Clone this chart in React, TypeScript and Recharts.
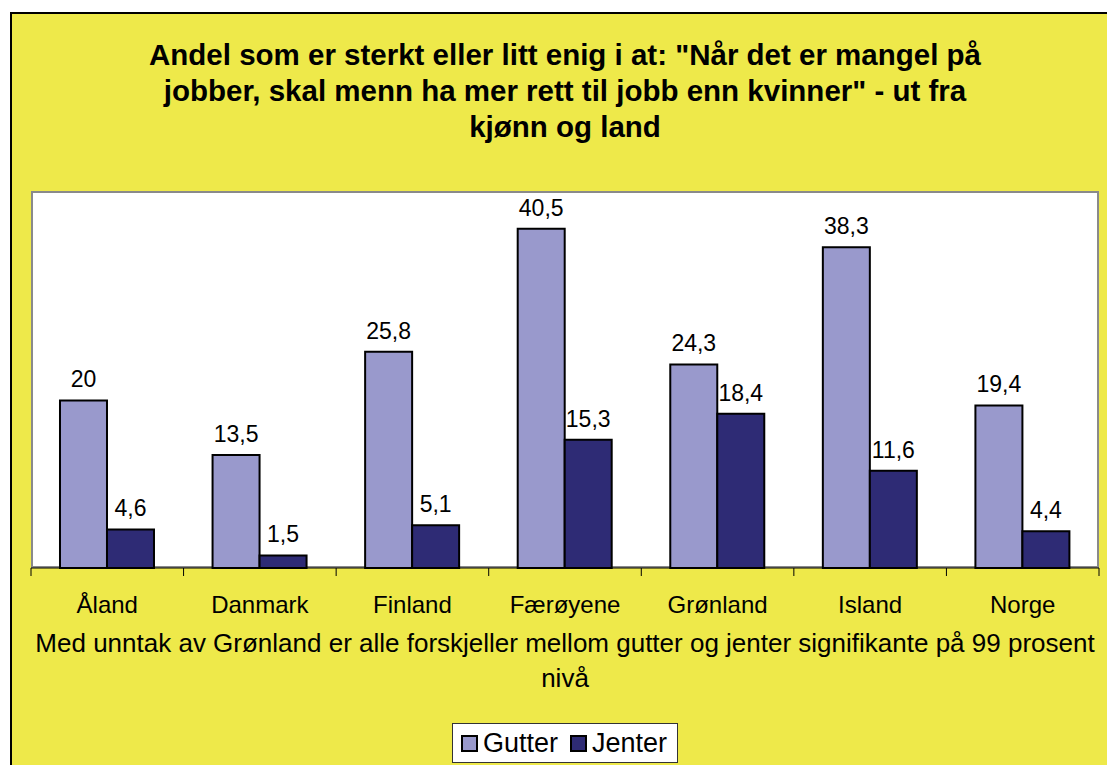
import React from 'react';
import { BarChart, Bar, XAxis, YAxis, LabelList, Legend } from 'recharts';

const countries = ['Åland', 'Danmark', 'Finland', 'Færøyene', 'Grønland', 'Island', 'Norge'];
const gutter = [20, 13.5, 25.8, 40.5, 24.3, 38.3, 19.4];
const jenter = [4.6, 1.5, 5.1, 15.3, 18.4, 11.6, 4.4];
const titleLines = [
  'Andel som er sterkt eller litt enig i at: "Når det er mangel på',
  'jobber, skal menn ha mer rett til jobb enn kvinner" - ut fra',
  'kjønn og land',
];
const noteLines = [
  'Med unntak av Grønland er alle forskjeller mellom gutter og jenter signifikante på 99 prosent',
  'nivå',
];
const seriesNames = ['Gutter', 'Jenter'];
const colors = ['#9999CC', '#2E2B75'];

const data = countries.map((c, i) => ({ name: c, Gutter: gutter[i], Jenter: jenter[i] }));

const FONT = '"Liberation Sans", Arial, sans-serif';
const W = 1107;
const H = 765;
const PLOT_L = 31;
const PLOT_R = 1099;
const PLOT_T = 191;
const PLOT_B = 568;
const BAND = (PLOT_R - PLOT_L) / countries.length;

const fmt = (v: any) => String(v).replace('.', ',');

const Tick = (props: any) => {
  const { x, payload, index } = props;
  const left = x - BAND / 2;
  const right = x + BAND / 2;
  const ay = PLOT_B;
  return (
    <g>
      <line x1={left} y1={ay} x2={left} y2={ay + 8} stroke="#000" strokeWidth={1} />
      {index === countries.length - 1 && (
        <line x1={right} y1={ay} x2={right} y2={ay + 8} stroke="#000" strokeWidth={1} />
      )}
      <text x={x} y={ay + 36} textAnchor="middle" dominantBaseline="central" fontSize={24} fontFamily={FONT} fill="#000">
        {payload.value}
      </text>
    </g>
  );
};

const LegendContent = () => (
  <div
    style={{
      display: 'flex',
      alignItems: 'center',
      background: '#fff',
      border: '1px solid #333',
      width: 226,
      height: 40,
      padding: '0 0 0 8px',
      boxSizing: 'border-box',
      fontFamily: FONT,
      fontSize: 27,
      color: '#000',
    }}
  >
    {seriesNames.map((n, i) => (
      <div key={n} style={{ display: 'flex', alignItems: 'center', marginRight: i === 0 ? 12 : 0 }}>
        <span
          style={{
            display: 'inline-block',
            width: 13,
            height: 13,
            background: colors[i],
            border: '2px solid #000',
            marginRight: 5,
          }}
        />
        <span>{n}</span>
      </div>
    ))}
  </div>
);

export default function App() {
  return (
    <div style={{ position: 'absolute', left: 0, top: 0, width: W, height: H, background: '#fff', overflow: 'hidden' }}>
      <div
        style={{
          position: 'absolute',
          left: 10,
          top: 12,
          width: W,
          height: H,
          background: '#EEE94A',
          border: '2px solid #000',
        }}
      />
      <div
        style={{
          position: 'absolute',
          left: PLOT_L,
          top: PLOT_T,
          width: PLOT_R - PLOT_L,
          height: PLOT_B - PLOT_T,
          background: '#fff',
          border: '2px solid #8a8a8a',
          boxSizing: 'border-box',
        }}
      />
      {titleLines.map((t, i) => (
        <div
          key={i}
          style={{
            position: 'absolute',
            left: 0,
            width: 1130,
            top: 55 + i * 36 - 18,
            height: 36,
            lineHeight: '36px',
            textAlign: 'center',
            fontFamily: FONT,
            fontWeight: 'bold',
            fontSize: 29.5,
            color: '#000',
            whiteSpace: 'nowrap',
          }}
        >
          {t}
        </div>
      ))}
      {noteLines.map((t, i) => (
        <div
          key={i}
          style={{
            position: 'absolute',
            left: -98,
            width: 1326,
            top: 643 + i * 35 - 17,
            height: 34,
            lineHeight: '34px',
            textAlign: 'center',
            fontFamily: FONT,
            fontSize: 26,
            color: '#000',
            whiteSpace: 'nowrap',
          }}
        >
          {t}
        </div>
      ))}
      <div style={{ position: 'absolute', left: 0, top: 0 }}>
        <BarChart
          width={W}
          height={H}
          data={data}
          margin={{ top: PLOT_T, right: W - PLOT_R, left: PLOT_L, bottom: H - PLOT_B - 40 }}
          barGap={0}
          barCategoryGap="19%"
        >
          <XAxis
            dataKey="name"
            height={40}
            axisLine={{ stroke: '#000', strokeWidth: 1 }}
            tickLine={false}
            tick={<Tick />}
            interval={0}
          />
          <YAxis hide domain={[0, 45]} />
          <Legend
            layout="horizontal"
            verticalAlign="middle"
            align="center"
            wrapperStyle={{ position: 'absolute', left: 452, top: 723, width: 'auto' }}
            content={<LegendContent />}
          />
          <Bar dataKey="Gutter" fill={colors[0]} stroke="#000" strokeWidth={2} isAnimationActive={false}>
            <LabelList dataKey="Gutter" position="top" offset={13} formatter={fmt} fontSize={23} fontFamily={FONT} fill="#000" />
          </Bar>
          <Bar dataKey="Jenter" fill={colors[1]} stroke="#000" strokeWidth={2} isAnimationActive={false}>
            <LabelList dataKey="Jenter" position="top" offset={13} formatter={fmt} fontSize={23} fontFamily={FONT} fill="#000" />
          </Bar>
        </BarChart>
      </div>
    </div>
  );
}
